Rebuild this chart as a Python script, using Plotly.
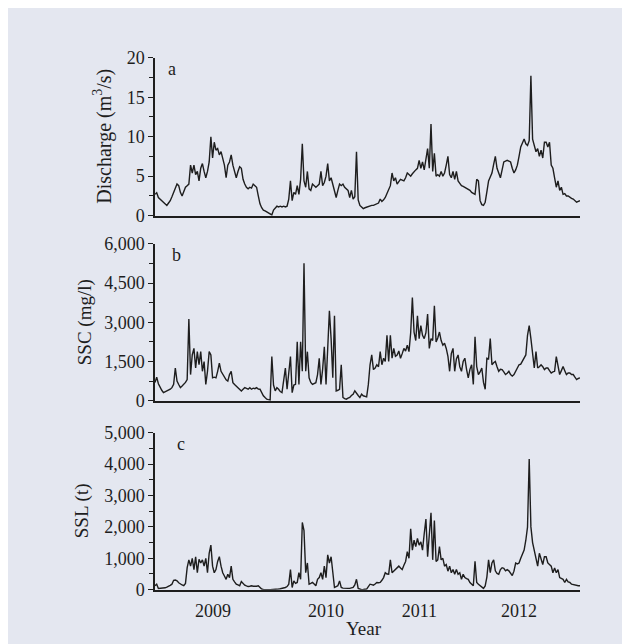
import pandas as pd
import plotly.graph_objects as go
from plotly.subplots import make_subplots

# ---------------- data ----------------
start_date = "2008-07-01"
sample_step = "156h"          # ~6.5 days between samples

discharge = [
    2.7, 2.9, 2.3, 2.1, 1.9, 1.7, 1.5, 1.3, 1.6, 1.9,
    2.4, 2.95, 3.5, 4.0, 3.8, 2.95, 2.5, 3.0, 3.6, 3.8,
    4.0, 6.4, 5.4, 6.4, 5.2, 5.6, 4.4, 6.0, 6.6, 5.6,
    4.8, 5.6, 6.8, 10.0, 7.3, 9.3, 8.3, 8.5, 7.7, 8.1,
    7.3, 6.4, 4.8, 6.4, 6.8, 7.7, 6.4, 5.6, 4.8, 5.6,
    6.2, 6.0, 4.6, 4.0, 3.6, 3.4, 3.6, 3.5, 4.0, 3.8,
    3.6, 2.5, 1.5, 1.0, 0.7, 0.6, 0.5, 0.4, 0.3, 0.1,
    0.7, 1.0, 1.2, 1.1, 1.2, 1.1, 1.2, 1.1, 1.2, 2.1,
    4.4, 1.9, 2.95, 2.7, 3.8, 2.7, 4.6, 9.1, 4.4, 3.6,
    5.6, 3.4, 3.2, 4.0, 3.8, 3.6, 3.8, 4.0, 5.6, 3.8,
    4.2, 5.0, 6.6, 4.4, 4.8, 4.0, 3.2, 2.3, 3.2, 4.0,
    3.8, 4.0, 3.6, 3.4, 3.2, 2.3, 3.2, 2.1, 2.4, 8.1,
    2.0, 1.3, 1.1, 0.9, 1.0, 1.1, 1.2, 1.2, 1.3, 1.3,
    1.4, 1.5, 1.6, 2.1, 1.8, 2.0, 2.3, 2.8, 3.4, 3.8,
    5.4, 4.4, 4.8, 4.0, 4.3, 4.6, 4.5, 4.4, 4.8, 5.4,
    5.2, 5.0, 5.3, 5.6, 5.8, 6.0, 7.0, 6.0, 6.8, 5.8,
    7.3, 8.5, 6.0, 11.6, 5.6, 7.9, 5.0, 5.2, 5.0, 5.6,
    5.0, 5.4, 6.4, 7.5, 5.2, 4.8, 5.6, 4.6, 5.6, 4.4,
    4.1, 3.8, 3.7, 3.6, 3.5, 3.4, 3.2, 2.95, 2.8, 2.7,
    4.6, 4.4, 1.9, 1.4, 1.3, 1.7, 3.0, 4.4, 4.9, 5.4,
    6.5, 7.5, 6.0, 5.4, 4.8, 5.8, 6.8, 6.9, 7.0, 6.9,
    6.8, 6.0, 5.4, 5.8, 6.4, 7.5, 8.7, 9.2, 9.7, 9.1,
    8.9, 9.5, 17.7, 9.7, 8.9, 8.1, 8.5, 7.5, 8.3, 7.3,
    9.3, 9.3, 8.7, 9.3, 6.4, 6.0, 4.8, 3.6, 4.4, 3.2,
    3.6, 2.7, 2.8, 2.5, 2.5, 2.3, 2.2, 2.1, 1.9, 1.7,
    1.8, 1.9,
]

ssc = [
    700, 900, 650, 500, 400, 310, 340, 375, 420, 440,
    500, 625, 1250, 750, 620, 500, 560, 625, 700, 810,
    3125, 1000, 1750, 2000, 1250, 1875, 1375, 1875, 1125, 1500,
    625, 1125, 1875, 1750, 875, 900, 875, 1125, 1440, 1125,
    1000, 875, 800, 750, 1000, 1125, 690, 620, 560, 500,
    420, 375, 440, 500, 470, 440, 500, 440, 480, 460,
    500, 450, 440, 300, 190, 120, 60, 40, 25, 1690,
    600, 375, 500, 440, 350, 310, 700, 1250, 440, 1125,
    1690, 310, 600, 625, 2250, 625, 2250, 1125, 5250, 1125,
    1875, 875, 700, 625, 650, 690, 1000, 1625, 625, 1200,
    2060, 625, 2000, 3440, 2375, 875, 3250, 375, 400, 440,
    1375, 125, 80, 60, 100, 125, 200, 250, 380, 310,
    200, 125, 250, 190, 170, 150, 625, 1375, 1750, 1190,
    1250, 1375, 1300, 1875, 1375, 1625, 1500, 2500, 1500, 2500,
    1625, 2000, 1700, 1750, 1900, 1625, 1800, 2000, 1900, 2125,
    1875, 2600, 3940, 2625, 2300, 3250, 2375, 2875, 2500, 2375,
    2600, 3310, 2000, 2375, 2300, 3625, 2250, 2400, 2625, 2300,
    2125, 2200, 2000, 1700, 1125, 1800, 2000, 1125, 1600, 1750,
    1300, 1125, 1500, 1625, 1200, 875, 1200, 1375, 625, 2440,
    1300, 1000, 1100, 1250, 700, 440, 1625, 1600, 2375, 1375,
    1450, 1500, 1300, 1125, 1200, 1190, 1100, 1000, 1050, 1125,
    1000, 940, 1000, 1125, 1250, 1375, 1400, 1500, 1600, 1750,
    2500, 2875, 2375, 1900, 1250, 1875, 1250, 1300, 1375, 1300,
    1190, 1250, 1250, 1150, 1060, 1100, 1125, 1690, 1300, 1000,
    1150, 1310, 1150, 1000, 1060, 1060, 1000, 1000, 900, 810,
    850, 875,
]

ssl = [
    125, 175, 40, 40, 40, 40, 60, 80, 100, 140,
    175, 300, 310, 280, 220, 175, 150, 125, 200, 700,
    950, 750, 1000, 640, 1050, 540, 970, 850, 950, 750,
    1000, 540, 1160, 1420, 750, 540, 640, 900, 1050, 750,
    540, 435, 330, 490, 385, 750, 330, 250, 175, 150,
    125, 260, 200, 145, 120, 100, 110, 125, 110, 100,
    110, 125, 60, 20, 10, 0, 0, 0, 0, 0,
    10, 15, 20, 20, 30, 40, 50, 70, 100, 175,
    640, 70, 280, 200, 230, 540, 330, 2140, 1880, 540,
    850, 175, 200, 230, 180, 125, 330, 385, 540, 330,
    750, 385, 1110, 850, 1050, 435, 70, 100, 125, 280,
    70, 50, 40, 40, 40, 40, 50, 70, 150, 330,
    40, 10, 0, 5, 10, 20, 100, 175, 160, 145,
    180, 230, 220, 230, 300, 385, 540, 500, 490, 950,
    540, 600, 640, 700, 750, 690, 640, 780, 900, 1210,
    1000, 1940, 1260, 1575, 1370, 1630, 1420, 1520, 1260, 1780,
    2250, 1050, 1680, 2450, 950, 2200, 900, 950, 1370, 950,
    1000, 750, 800, 590, 750, 540, 640, 490, 640, 490,
    540, 330, 490, 385, 350, 330, 230, 180, 125, 900,
    230, 170, 125, 80, 40, 120, 400, 950, 540, 850,
    950, 600, 520, 490, 640, 700, 680, 600, 640, 600,
    500, 450, 590, 850, 820, 850, 1000, 1160, 1260, 1575,
    1990, 4160, 2000, 1500, 1260, 950, 750, 1160, 950, 800,
    1050, 1050, 850, 800, 750, 540, 690, 540, 640, 385,
    360, 330, 230, 330, 250, 230, 175, 160, 145, 135,
    125, 125,
]

year_labels = ["2009", "2010", "2011", "2012"]
year_label_dates = ["2009-02-09", "2010-04-18", "2011-04-12", "2012-04-28"]

panel_letters = ["a", "b", "c"]
y_titles = ["Discharge (m<sup>3</sup>/s)", "SSC (mg/l)", "SSL (t)"]
y_ranges = [[0, 20], [0, 6000], [0, 5000]]
y_majors = [5, 1500, 1000]
y_minors = [2.5, 750, 500]

dates = pd.date_range(start_date, periods=len(discharge), freq=sample_step)

# ---------------- figure ----------------
W, H = 630, 644
BG = "#e4e7f0"
INK = "#1e1e1e"
FONT = "Liberation Serif, Times New Roman, serif"

# layout in figure pixels
L_PX, R_PX = 147, 572
panel_px = [(41, 204), (233, 395), (428, 590)]

def fx(px):
    return (px - L_PX) / (R_PX - L_PX)

def fy(py):
    return 1 - py / H

fig = make_subplots(rows=3, cols=1)
series = [discharge, ssc, ssl]
for i, vals in enumerate(series):
    fig.add_trace(
        go.Scatter(x=dates, y=vals, mode="lines",
                   line=dict(color=INK, width=1.4), showlegend=False),
        row=i + 1, col=1)

for i in range(3):
    top, bot = panel_px[i]
    ax = "" if i == 0 else str(i + 1)
    fig.layout["yaxis" + ax].update(
        domain=[fy(bot), fy(top)], range=y_ranges[i], dtick=y_majors[i], tick0=0,
        showgrid=False, zeroline=False, showline=True, linecolor=INK, linewidth=1.5,
        ticks="outside", ticklen=5, tickwidth=1.3, tickcolor=INK,
        tickformat=",d", tickfont=dict(family=FONT, size=18, color=INK),
        minor=dict(dtick=y_minors[i], tick0=0, ticks="outside", ticklen=4,
                   tickwidth=1.2, tickcolor=INK, showgrid=False),
    )
    fig.layout["xaxis" + ax].update(
        domain=[0, 1], range=[dates[0], dates[-1]],
        showgrid=False, zeroline=False, showline=True, linecolor=INK, linewidth=2,
        ticks="", tickvals=year_label_dates, ticktext=year_labels,
        ticklabelstandoff=4,
        showticklabels=(i == 2), tickfont=dict(family=FONT, size=18, color=INK),
    )

annotations = []
letter_pos = [(164, 53), (168, 245), (173, 440)]
for i, (lx, ly) in enumerate(letter_pos):
    annotations.append(dict(text=panel_letters[i], xref="paper", yref="paper",
                            x=fx(lx), y=fy(ly), xanchor="center", yanchor="middle",
                            showarrow=False, font=dict(family=FONT, size=18, color=INK)))
title_x = [95, 77, 74]
title_size = [20, 19, 19]
for i in range(3):
    top, bot = panel_px[i]
    annotations.append(dict(text=y_titles[i], xref="paper", yref="paper",
                            x=fx(title_x[i]), y=fy((top + bot) / 2), textangle=-90,
                            xanchor="center", yanchor="middle", showarrow=False,
                            font=dict(family=FONT, size=title_size[i], color=INK)))
annotations.append(dict(text="Year", xref="paper", yref="paper",
                        x=fx(356), y=fy(630), xanchor="center", yanchor="middle",
                        showarrow=False, font=dict(family=FONT, size=19, color=INK)))

fig.update_layout(
    width=W, height=H, autosize=False,
    margin=dict(l=L_PX, r=W - R_PX, t=0, b=0),
    paper_bgcolor=BG, plot_bgcolor=BG,
    annotations=annotations,
    font=dict(family=FONT, color=INK),
)

fig.write_html("out.html")
